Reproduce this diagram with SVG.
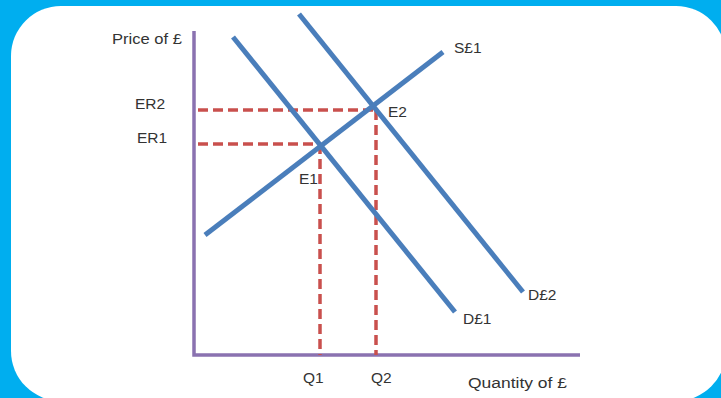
<svg xmlns="http://www.w3.org/2000/svg" width="721" height="398" viewBox="0 0 721 398">
<style>
.t{font-family:"Liberation Sans",Arial,sans-serif;font-size:15.5px;fill:#333}
.ax{stroke:#8a72b0;stroke-width:3.5;fill:none}
.cv{stroke:#4a7ebb;stroke-width:5;stroke-linecap:butt}
.ds{stroke:#c9504d;stroke-width:3.5;stroke-dasharray:10 5;fill:none}
</style>
<rect x="0" y="0" width="721" height="398" fill="#00aeef"/>
<rect x="11" y="6" width="715" height="395" rx="50" ry="50" fill="#fff"/>
<g id="axes">
<polyline class="ax" points="194,31 194,355 580,355"/>
</g>
<g id="connectors">
<line class="ds" x1="198" y1="110" x2="376" y2="110"/>
<line class="ds" x1="198" y1="144" x2="320" y2="144"/>
<line class="ds" x1="320" y1="144" x2="320" y2="355"/>
<line class="ds" x1="376" y1="110" x2="376" y2="355"/>
<line id="D1" class="cv" x1="233" y1="37" x2="455" y2="312"/>
<line id="D2" class="cv" x1="299" y1="14" x2="523" y2="292"/>
<line id="S1" class="cv" x1="205" y1="235" x2="443" y2="52"/>
</g>
<g id="labels">
<text class="t" x="112" y="44" textLength="70" lengthAdjust="spacingAndGlyphs">Price of £</text>
<text class="t" x="135" y="109">ER2</text>
<text class="t" x="137" y="143">ER1</text>
<text class="t" x="299" y="184">E1</text>
<text class="t" x="388" y="117">E2</text>
<text class="t" x="454" y="53">S£1</text>
<text class="t" x="528" y="300">D£2</text>
<text class="t" x="463" y="324">D£1</text>
<text class="t" x="303" y="383">Q1</text>
<text class="t" x="371" y="383">Q2</text>
<text class="t" x="468" y="388" textLength="99" lengthAdjust="spacingAndGlyphs">Quantity of £</text>
</g>
</svg>
